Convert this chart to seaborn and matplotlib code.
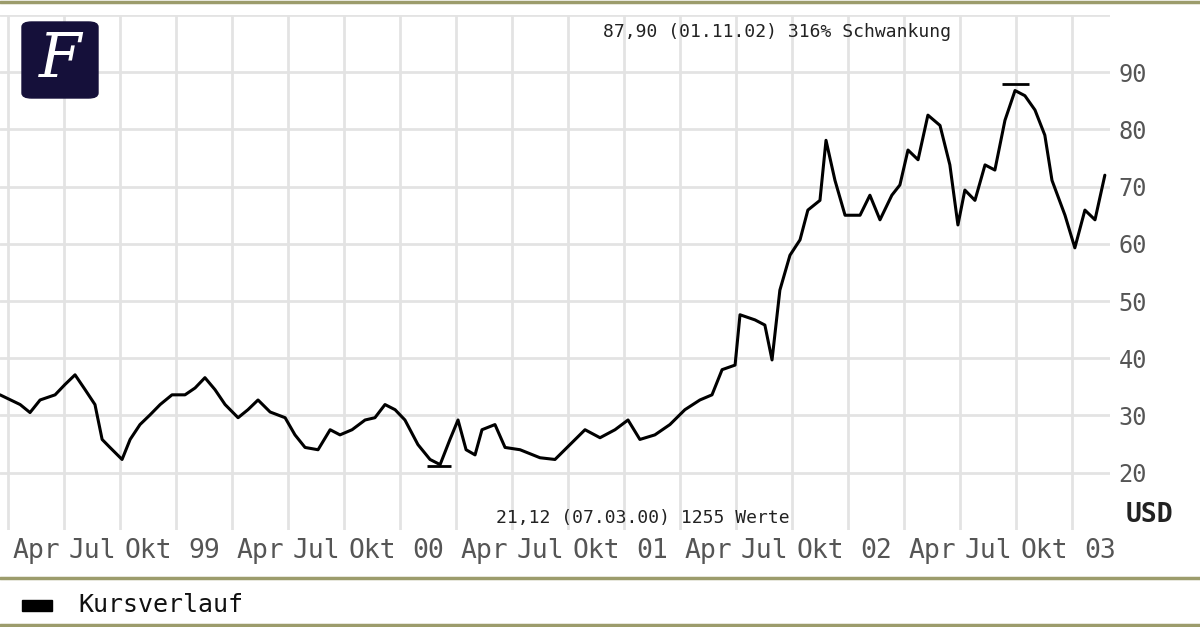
import numpy as np
import pandas as pd
import seaborn as sns
import matplotlib
matplotlib.use("Agg")
import matplotlib.pyplot as plt
from matplotlib.patches import FancyBboxPatch, Rectangle

years = [1998.214,1998.304,1998.348,1998.393,1998.460,1998.504,1998.549,1998.594,1998.638,1998.670,
         1998.705,1998.759,1998.795,1998.839,1998.884,1998.929,1998.982,1999.040,1999.085,1999.129,
         1999.174,1999.219,1999.277,1999.321,1999.366,1999.420,1999.487,1999.531,1999.576,1999.634,
         1999.688,1999.732,1999.786,1999.844,1999.888,1999.933,1999.978,2000.022,2000.080,2000.134,
         2000.179,2000.223,2000.259,2000.295,2000.335,2000.366,2000.424,2000.469,2000.536,2000.625,
         2000.692,2000.759,2000.826,2000.893,2000.960,2001.018,2001.071,2001.138,2001.205,2001.272,
         2001.339,2001.393,2001.438,2001.496,2001.518,2001.585,2001.629,2001.661,2001.696,2001.741,
         2001.786,2001.821,2001.875,2001.902,2001.942,2001.987,2002.054,2002.098,2002.143,2002.196,
         2002.232,2002.268,2002.313,2002.357,2002.411,2002.455,2002.491,2002.522,2002.567,2002.612,
         2002.656,2002.701,2002.746,2002.790,2002.835,2002.879,2002.911,2002.969,2003.013,2003.058,
         2003.103,2003.147]
prices = [33.6,31.9,30.5,32.7,33.6,35.4,37.1,34.5,31.9,25.8,
          24.4,22.3,25.8,28.4,30.1,31.9,33.6,33.6,34.8,36.6,
          34.5,31.9,29.6,31.0,32.7,30.6,29.6,26.6,24.4,24.0,
          27.5,26.6,27.5,29.2,29.6,31.9,31.0,29.2,24.9,22.3,
          21.4,25.8,29.2,24.0,23.1,27.5,28.4,24.4,24.0,22.6,
          22.3,24.9,27.5,26.1,27.5,29.2,25.8,26.6,28.4,31.0,
          32.7,33.6,38.0,38.8,47.6,46.7,45.8,39.7,51.9,58.0,
          60.7,65.9,67.6,78.1,71.1,65.0,65.0,68.5,64.2,68.5,
          70.3,76.4,74.7,82.5,80.7,73.8,63.3,69.4,67.6,73.8,
          72.9,81.6,86.8,85.9,83.4,79.0,71.1,65.0,59.3,65.9,
          64.2,72.0]
tick_labels = ["Apr","Jul","Okt","99","Apr","Jul","Okt","00","Apr","Jul","Okt","01",
               "Apr","Jul","Okt","02","Apr","Jul","Okt","03"]
y_ticks = [20,30,40,50,60,70,80,90]
min_year, min_val = 2000.179, 21.12
max_year, max_val = 2002.79, 87.90

df = pd.DataFrame({"t": years, "p": prices})
sns.set_theme(style="white")
plt.rcParams['font.family'] = ['DejaVu Sans Mono', 'DejaVu Sans']

fig = plt.figure(figsize=(12, 6.27), dpi=100)
ax = fig.add_axes([0, 0.155, 0.925, 0.821])
sns.lineplot(data=df, x="t", y="p", ax=ax, color="black", lw=2.2)
ax.set_xlim(1998.214, 2003.17)
ax.set_ylim(10, 100)
grid_c = "#e3e3e3"
for k in range(21):
    ax.axvline(1998.25 + 0.25*k, color=grid_c, lw=2, zorder=0)
for v in range(20, 101, 10):
    ax.axhline(v, color=grid_c, lw=2, zorder=0)
for s in ax.spines.values():
    s.set_visible(False)
ax.set_xticks([1998.375 + 0.25*k for k in range(len(tick_labels))])
ax.set_xticklabels(tick_labels, fontsize=19, color="#555555")
ax.tick_params(axis="x", length=0, pad=6)
ax.yaxis.tick_right()
ax.set_yticks(y_ticks)
ax.set_yticklabels([str(v) for v in y_ticks], fontsize=17, color="#555555")
ax.tick_params(axis="y", length=0, pad=6)
ax.set_xlabel(""); ax.set_ylabel("")
ax.hlines(min_val, min_year-0.06, min_year+0.05, color="black", lw=2)
ax.hlines(max_val, max_year-0.1, max_year+0.02, color="black", lw=2)
ax.text(0.70, 0.985, f"{max_val:.2f}".replace(".", ",") + " (01.11.02) 316% Schwankung",
        transform=ax.transAxes, ha="center", va="top", fontsize=13, color="#222222")
ax.text(0.579, 0.005, f"{min_val:.2f}".replace(".", ",") + " (07.03.00) 1255 Werte",
        transform=ax.transAxes, ha="center", va="bottom", fontsize=13, color="#222222")

fig.text(0.958, 1-515/627, "USD", fontsize=19, fontweight="bold", ha="center", va="center", color="#222222")
olive = "#9c9c6c"
for yy in [2, 578, 625]:
    fig.add_artist(plt.Line2D([0, 1], [1-yy/627]*2, color=olive, lw=2.5))
fig.add_artist(Rectangle((22/1200, 1-611/627), 30/1200, 11/627, color="black"))
fig.text(78/1200, 1-605/627, "Kursverlauf", fontsize=18, va="center", color="#111111")
fig.add_artist(FancyBboxPatch((22/1200, 1-98/627), 76/1200, 76/627,
               boxstyle="round,pad=0,rounding_size=0.008", color="#15103a"))
fig.text(60/1200, 1-60/627, "F", fontsize=44, family="DejaVu Serif", fontstyle="italic",
         color="white", ha="center", va="center")
fig.savefig("out.png", dpi=100)
